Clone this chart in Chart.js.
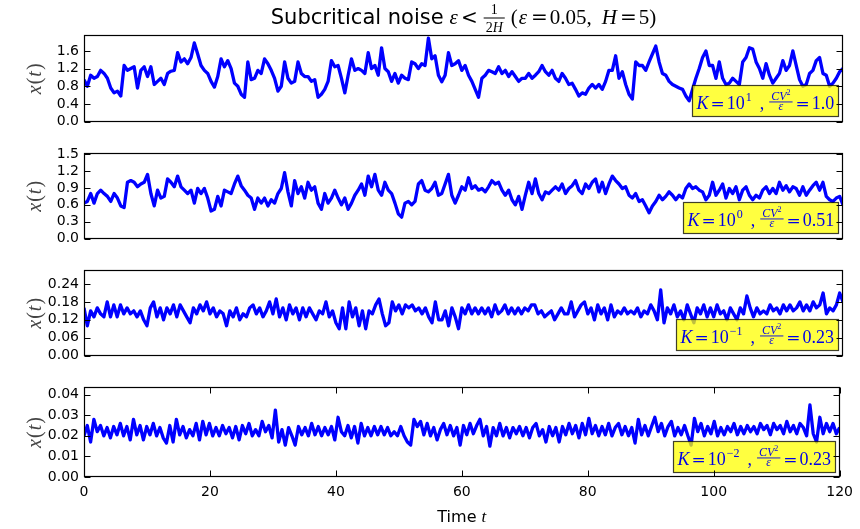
<!DOCTYPE html>
<html>
<head>
<meta charset="utf-8">
<script src="https://cdn.jsdelivr.net/npm/chart.js@4.4.0/dist/chart.umd.min.js"></script>
<style>
html, body { margin: 0; padding: 0; background: #fff; }
#wrap { position: relative; width: 860px; height: 529px; overflow: hidden; }
.panel { position: absolute; left: 0; width: 860px; }
</style>
</head>
<body>
<div id="wrap">
  <div class="panel" style="top:0px;height:135px"><canvas id="c1"></canvas></div>
  <div class="panel" style="top:135px;height:117px"><canvas id="c2"></canvas></div>
  <div class="panel" style="top:252px;height:117px"><canvas id="c3"></canvas></div>
  <div class="panel" style="top:369px;height:160px"><canvas id="c4"></canvas></div>
</div>
<script>
// x(t), evenly spaced over t = 0..120
var xK1 = [
  0.95,0.80,1.05,0.98,1.02,1.16,1.09,0.98,0.76,0.65,
  0.69,0.58,1.27,1.16,1.20,1.24,0.76,1.16,1.24,1.02,
  1.24,0.84,0.91,0.98,0.84,1.09,1.14,1.16,1.56,1.35,
  1.42,1.31,1.45,1.78,1.53,1.27,1.16,1.09,0.91,0.78,
  1.02,1.42,1.24,1.38,1.20,0.87,0.80,0.62,0.55,1.35,
  0.95,0.98,1.16,1.09,1.42,1.31,1.16,0.98,0.69,0.80,
  1.35,0.98,0.87,0.91,1.35,1.09,1.02,1.02,0.91,0.95,
  0.55,0.62,0.73,0.91,1.38,1.24,1.27,0.98,0.65,1.05,
  1.42,1.16,1.20,1.16,1.09,1.56,1.20,1.27,1.05,1.67,
  1.20,1.13,0.91,1.09,0.87,1.05,0.98,0.95,1.35,1.31,
  1.20,1.31,1.27,1.89,1.42,1.49,1.05,
  0.90,1.05,1.56,1.27,1.31,1.38,1.16,1.27,1.05,0.91,
  0.73,0.55,0.98,1.05,1.16,1.13,1.09,1.24,1.09,1.16,
  1.02,1.13,1.02,0.91,0.98,0.98,1.09,0.98,1.05,1.13,
  1.27,1.13,1.05,1.16,0.98,0.91,1.09,0.98,0.84,0.87,
  0.73,0.58,0.65,0.62,0.76,0.84,0.76,0.84,0.73,0.91,
  1.16,1.16,1.49,0.98,1.13,0.84,0.62,0.51,1.35,1.27,
  1.27,1.16,1.35,1.53,1.71,1.35,1.09,1.05,0.91,0.84,
  0.80,0.76,0.73,0.58,0.47,0.73,0.98,1.20,1.45,1.60,
  1.27,1.27,0.98,1.35,0.98,0.84,0.87,0.98,0.91,0.84,
  1.35,1.45,1.67,1.64,1.35,1.20,0.98,1.31,1.05,0.87,
  0.98,1.09,1.38,1.16,1.27,1.60,1.27,0.95,0.80,0.84,
  1.09,1.16,1.38,1.45,1.09,1.05,0.80,0.87,0.98,1.13,
  1.20
];
var xK0 = [
  0.63,0.66,0.80,0.63,0.80,0.86,0.80,0.75,0.66,0.80,
  0.72,0.58,0.55,1.00,1.03,1.00,0.92,0.97,1.00,1.14,
  0.80,0.58,0.86,0.72,0.75,1.06,1.00,0.92,1.11,0.92,
  0.86,0.80,0.86,0.63,0.89,0.80,0.89,0.72,0.49,0.52,
  0.75,0.58,0.86,0.83,0.80,0.97,1.11,0.94,0.86,0.77,
  0.72,0.52,0.72,0.63,0.72,0.58,0.69,0.63,0.80,0.89,
  1.17,0.83,0.58,1.03,0.80,0.92,0.72,1.00,0.86,0.92,
  0.63,0.52,0.80,0.63,0.72,0.86,0.72,0.60,0.72,0.52,
  0.63,0.77,0.86,0.97,0.77,1.11,0.92,1.14,0.86,0.77,
  1.00,0.86,0.80,0.63,0.44,0.38,0.63,0.66,0.60,0.66,
  0.97,1.03,0.86,0.83,0.89,1.00,0.77,
  0.80,0.97,1.14,0.77,0.63,0.77,0.92,0.86,1.08,0.89,
  0.94,0.86,0.89,0.83,0.92,1.03,0.97,1.00,0.86,0.77,
  0.86,0.69,0.60,0.75,0.52,0.77,1.00,0.80,1.06,0.80,
  0.69,0.83,0.80,0.86,0.92,0.86,0.97,0.80,0.89,0.94,
  1.03,0.86,0.80,0.97,0.89,1.00,1.06,0.83,1.00,0.80,
  0.97,1.11,1.03,0.97,0.89,0.92,0.77,0.72,0.80,0.66,
  0.69,0.58,0.46,0.58,0.66,0.77,0.69,0.75,0.83,0.77,
  0.69,0.77,0.72,0.89,0.97,0.89,0.92,0.86,0.83,0.69,
  0.77,1.00,0.77,0.86,0.97,0.72,0.89,0.80,0.92,0.69,
  0.86,0.92,0.77,0.69,0.77,0.72,0.86,0.92,0.80,0.89,
  0.80,1.00,0.86,0.94,0.83,0.92,0.89,0.77,0.92,0.77,
  0.86,0.94,1.00,0.86,1.00,0.75,0.69,0.66,0.72,0.75,
  0.60
];
var xKm1 = [
  0.16,0.10,0.15,0.13,0.16,0.14,0.13,0.18,0.13,0.17,
  0.13,0.17,0.14,0.16,0.14,0.15,0.13,0.15,0.12,0.10,
  0.16,0.18,0.13,0.16,0.12,0.16,0.14,0.17,0.13,0.17,
  0.15,0.13,0.11,0.16,0.14,0.17,0.15,0.18,0.14,0.16,
  0.13,0.15,0.14,0.10,0.15,0.13,0.16,0.12,0.14,0.13,
  0.16,0.17,0.14,0.16,0.13,0.15,0.18,0.14,0.19,0.13,
  0.16,0.12,0.17,0.14,0.16,0.12,0.16,0.13,0.16,0.14,
  0.12,0.15,0.14,0.18,0.13,0.15,0.11,0.09,0.16,0.09,
  0.18,0.13,0.16,0.10,0.15,0.09,0.15,0.14,0.17,0.19,
  0.14,0.10,0.11,0.18,0.15,0.17,0.14,0.17,0.16,0.17,
  0.15,0.16,0.14,0.16,0.13,0.11,0.18,0.12,
  0.12,0.15,0.10,0.16,0.13,0.09,0.16,0.14,0.17,0.14,
  0.16,0.14,0.16,0.14,0.16,0.13,0.17,0.14,0.15,0.17,
  0.14,0.16,0.14,0.16,0.14,0.16,0.15,0.17,0.17,0.14,
  0.15,0.13,0.14,0.15,0.12,0.14,0.16,0.14,0.14,0.18,
  0.13,0.15,0.17,0.18,0.14,0.16,0.12,0.17,0.14,0.16,
  0.12,0.17,0.13,0.15,0.14,0.16,0.14,0.15,0.14,0.16,
  0.13,0.15,0.14,0.17,0.15,0.12,0.22,
  0.11,0.16,0.14,0.17,0.13,0.15,0.12,0.17,0.14,0.11,
  0.16,0.14,0.17,0.13,0.16,0.13,0.17,0.14,0.15,0.12,
  0.16,0.14,0.12,0.16,0.14,0.20,0.16,0.13,0.16,0.14,
  0.15,0.14,0.17,0.15,0.16,0.14,0.17,0.15,0.17,0.15,
  0.16,0.18,0.15,0.17,0.15,0.18,0.16,0.17,0.21,0.14,
  0.16,0.15,0.17,0.21,0.18
];
var xKm2 = [
  0.0200,0.0250,0.0170,0.0280,0.0220,0.0250,0.0200,0.0240,0.0190,0.0245,
  0.0205,0.0260,0.0200,0.0245,0.0180,0.0280,0.0205,0.0250,0.0180,0.0245,
  0.0205,0.0260,0.0200,0.0240,0.0190,0.0165,0.0250,0.0170,0.0280,0.0205,
  0.0245,0.0190,0.0230,0.0200,0.0260,0.0180,0.0270,0.0205,0.0260,0.0200,
  0.0240,0.0200,0.0250,0.0210,0.0240,0.0190,0.0245,0.0180,0.0250,0.0210,
  0.0260,0.0200,0.0230,0.0200,0.0270,0.0220,0.0250,0.0190,0.0325,0.0170,
  0.0230,0.0155,0.0240,0.0200,0.0155,0.0245,0.0205,0.0240,0.0200,0.0260,
  0.0205,0.0245,0.0200,0.0240,0.0205,0.0245,0.0180,0.0290,0.0220,0.0200,
  0.0250,0.0190,0.0245,0.0165,0.0260,0.0200,0.0240,0.0200,0.0245,0.0205,
  0.0245,0.0205,0.0240,0.0200,0.0220,0.0200,0.0245,0.0200,0.0170,0.0155,
  0.0280,0.0245,0.0270,0.0205,0.0260,0.0200,0.0240,0.0180,
  0.0230,0.0260,0.0205,0.0250,0.0200,0.0240,0.0155,0.0250,0.0205,0.0260,
  0.0210,0.0250,0.0280,0.0200,0.0245,0.0150,0.0240,0.0200,0.0260,0.0200,
  0.0240,0.0190,0.0240,0.0210,0.0245,0.0200,0.0240,0.0190,0.0240,0.0260,
  0.0200,0.0230,0.0170,0.0245,0.0200,0.0240,0.0170,0.0245,0.0205,0.0260,
  0.0210,0.0250,0.0190,0.0260,0.0205,0.0285,0.0210,0.0250,0.0200,0.0245,
  0.0205,0.0260,0.0200,0.0240,0.0260,0.0205,0.0245,0.0200,0.0240,0.0165,
  0.0280,0.0205,0.0250,0.0200,0.0245,0.0290,0.0220,0.0260,0.0200,0.0245,
  0.0270,0.0200,0.0240,0.0205,0.0250,0.0200,0.0155,0.0285,0.0220,0.0260,
  0.0200,0.0245,0.0210,0.0270,0.0200,0.0240,0.0205,0.0245,0.0220,0.0260,
  0.0205,0.0245,0.0210,0.0250,0.0220,0.0245,0.0210,0.0260,0.0230,0.0250,
  0.0205,0.0260,0.0230,0.0250,0.0210,0.0270,0.0220,0.0250,0.0210,0.0260,
  0.0240,0.0200,0.0350,
  0.0210,0.0170,0.0290,0.0210,0.0260,0.0220,0.0260,0.0210,0.0240
];

var xTicks = [0, 20, 40, 60, 80, 100, 120];
var yTicks1 = [0, 0.4, 0.8, 1.2, 1.6];
var yTicks2 = [0, 0.3, 0.6, 0.9, 1.2, 1.5];
var yTicks3 = [0, 0.06, 0.12, 0.18, 0.24];
var yTicks4 = [0, 0.01, 0.02, 0.03, 0.04];
var yMaxes = [1.96, 1.52, 0.287, 0.0437];
var kExponents = ['1', '0', '\u22121', '\u22122'];
var cvValues = ['1.0', '0.51', '0.23', '0.23'];

var SERIF = '"Liberation Serif", "DejaVu Serif", serif';
var SANS = '"DejaVu Sans", sans-serif';
var SYM = '"DejaVu Serif", serif';

function put(ctx, s, x, y, font, draw) {
  ctx.font = font;
  if (draw) ctx.fillText(s, x, y);
  return ctx.measureText(s).width;
}

// K = 10^n , CV^2/eps = v
function legendText(ctx, x, y, exp, val, draw) {
  var x0 = x;
  var big = '18px ' + SERIF, bigI = 'italic 18px ' + SERIF, sym = '17px ' + SYM;
  var small = '12px ' + SERIF, smallI = 'italic 12px ' + SERIF;
  x += put(ctx, 'K', x, y, bigI, draw) + 2;
  x += put(ctx, '=', x, y, sym, draw) + 2;
  x += put(ctx, '10', x, y, big, draw) + 1;
  x += put(ctx, exp, x, y - 8, small, draw) + 8;
  x += put(ctx, ',', x, y, big, draw) + 5;
  ctx.font = smallI;
  var wCV = ctx.measureText('CV').width;
  ctx.font = '8px ' + SERIF;
  var w2 = ctx.measureText('2').width;
  var wBar = wCV + w2 + 4;
  if (draw) {
    var nx = x + 2;
    put(ctx, 'CV', nx, y - 9, smallI, true);
    put(ctx, '2', nx + wCV, y - 14, '8px ' + SERIF, true);
    ctx.font = smallI;
    var wE = ctx.measureText('\u03b5').width;
    put(ctx, '\u03b5', x + (wBar - wE) / 2, y + 1, smallI, true);
    ctx.fillRect(x, y - 7, wBar, 0.9);
  }
  x += wBar + 3;
  x += put(ctx, '=', x, y, sym, draw) + 2;
  x += put(ctx, val, x, y, big, draw);
  return x - x0;
}

function titleText(ctx, x, y, draw) {
  var x0 = x;
  var it = 'italic 21px ' + SERIF, up = '21px ' + SERIF, sym = '20px ' + SYM;
  x += put(ctx, 'Subcritical noise', x, y, '21px ' + SANS, draw) + 6;
  x += put(ctx, '\u03b5', x, y, it, draw) + 3;
  x += put(ctx, '<', x, y, sym, draw) + 6;
  ctx.font = '14px ' + SERIF;
  var w2 = ctx.measureText('2').width;
  ctx.font = 'italic 14px ' + SERIF;
  var wH = ctx.measureText('H').width;
  var wBar = w2 + wH + 4;
  if (draw) {
    ctx.font = '14px ' + SERIF;
    var w1 = ctx.measureText('1').width;
    put(ctx, '1', x + (wBar - w1) / 2, y - 10, '14px ' + SERIF, true);
    put(ctx, '2', x + 2, y + 8, '14px ' + SERIF, true);
    put(ctx, 'H', x + 2 + w2, y + 8, 'italic 14px ' + SERIF, true);
    ctx.fillRect(x, y - 6.5, wBar, 1);
  }
  x += wBar + 6;
  x += put(ctx, '(', x, y, up, draw) + 1;
  x += put(ctx, '\u03b5', x, y, it, draw) + 4;
  x += put(ctx, '=', x, y, sym, draw) + 2;
  x += put(ctx, '0.05,', x, y, up, draw) + 10;
  x += put(ctx, 'H', x, y, it, draw) + 3;
  x += put(ctx, '=', x, y, sym, draw) + 2;
  x += put(ctx, '5)', x, y, up, draw);
  return x - x0;
}

var decor = {
  id: 'decor',
  afterDatasetsDraw: function (chart, args, o) {
    var ctx = chart.ctx, a = chart.chartArea;
    var L = Math.round(a.left) + 0.5, R = Math.round(a.right) - 0.5;
    var T = Math.round(a.top) + 0.5, B = Math.round(a.bottom) - 0.5;
    ctx.save();

    // legend box, lower right
    ctx.textBaseline = 'alphabetic';
    ctx.textAlign = 'left';
    var tw = legendText(ctx, 0, 0, o.exp, o.val, false);
    var bw = Math.round(tw + 8), bh = 31;
    var bx = Math.round(a.right - 5 - bw) + 0.5, by = Math.round(a.bottom - 5.5 - bh) + 0.5;
    ctx.fillStyle = 'rgba(255,255,0,0.75)';
    ctx.fillRect(bx, by, bw, bh);
    ctx.strokeStyle = 'rgba(0,0,0,0.75)';
    ctx.lineWidth = 1.2;
    ctx.strokeRect(bx, by, bw, bh);
    ctx.fillStyle = '#0000e6';
    legendText(ctx, bx + 4, by + 23, o.exp, o.val, true);

    // frame and inward ticks
    ctx.strokeStyle = '#000';
    ctx.lineWidth = 1.2;
    ctx.strokeRect(L, T, R - L, B - T);
    ctx.lineWidth = 1;
    ctx.beginPath();
    var ys = chart.scales.y;
    o.yTicks.forEach(function (v) {
      var py = Math.round(ys.getPixelForValue(v)) + 0.5;
      ctx.moveTo(L, py); ctx.lineTo(L + 6, py);
      ctx.moveTo(R, py); ctx.lineTo(R - 6, py);
    });
    if (o.showX) {
      var xs = chart.scales.x;
      xTicks.forEach(function (v) {
        var px = Math.round(xs.getPixelForValue(v)) + 0.5;
        ctx.moveTo(px, B); ctx.lineTo(px, B - 6);
        ctx.moveTo(px, T); ctx.lineTo(px, T + 6);
      });
    }
    ctx.stroke();

    // y label x(t)
    ctx.save();
    ctx.translate(41, (a.top + a.bottom) / 2);
    ctx.rotate(-Math.PI / 2);
    ctx.fillStyle = '#444';
    var parts = [['x', true], ['(', false], ['t', true], [')', false]];
    var w = 0;
    parts.forEach(function (p) { ctx.font = (p[1] ? 'italic ' : '') + '20px ' + SERIF; w += ctx.measureText(p[0]).width + 1; });
    var cx = -w / 2;
    parts.forEach(function (p) { cx += put(ctx, p[0], cx, 0, (p[1] ? 'italic ' : '') + '20px ' + SERIF, true) + 1; });
    ctx.restore();

    ctx.fillStyle = '#000';
    if (o.title) {
      var ttw = titleText(ctx, 0, 0, false);
      titleText(ctx, (a.left + a.right) / 2 - ttw / 2, 24, true);
    }
    if (o.xlabel) {
      ctx.font = '16px ' + SANS;
      var w1 = ctx.measureText('Time ').width;
      ctx.font = 'italic 17px ' + SERIF;
      var w2 = ctx.measureText('t').width;
      var sx = (a.left + a.right) / 2 - (w1 + w2) / 2;
      put(ctx, 'Time ', sx, 153, '16px ' + SANS, true);
      put(ctx, 't', sx + w1, 153, 'italic 17px ' + SERIF, true);
    }
    ctx.restore();
  }
};

function buildPanel(canvasId, values, idx, yTicks, decimals, pad) {
  var dt = 120 / (values.length - 1);
  var points = values.map(function (v, i) { return { x: i * dt, y: v }; });
  var showX = idx === 3;
  return new Chart(document.getElementById(canvasId), {
    type: 'line',
    data: {
      datasets: [{
        data: points,
        borderColor: '#0000ff',
        borderWidth: 3.3,
        pointRadius: 0,
        tension: 0,
        fill: false,
        clip: 0,
        borderJoinStyle: 'round'
      }]
    },
    options: {
      responsive: true,
      maintainAspectRatio: false,
      animation: false,
      layout: { padding: pad },
      plugins: {
        legend: { display: false },
        tooltip: { enabled: false },
        decor: {
          exp: kExponents[idx],
          val: cvValues[idx],
          yTicks: yTicks,
          showX: showX,
          title: idx === 0,
          xlabel: showX
        }
      },
      scales: {
        x: {
          type: 'linear',
          min: 0,
          max: 120,
          display: showX,
          afterBuildTicks: function (s) { s.ticks = xTicks.map(function (v) { return { value: v }; }); },
          afterFit: function (s) { s.height = showX ? 30 : 0; },
          ticks: { font: { family: 'DejaVu Sans', size: 14 }, color: '#000', padding: 7, maxRotation: 0, autoSkip: false },
          grid: { display: false, drawTicks: false },
          border: { display: false }
        },
        y: {
          min: 0,
          max: yMaxes[idx],
          afterBuildTicks: function (s) { s.ticks = yTicks.map(function (v) { return { value: v }; }); },
          afterFit: function (s) { s.width = 84; },
          ticks: {
            font: { family: 'DejaVu Sans', size: 14 },
            color: '#000',
            padding: 5,
            autoSkip: false,
            callback: function (v) { return Number(v).toFixed(decimals); }
          },
          grid: { display: false, drawTicks: false },
          border: { display: false }
        }
      }
    },
    plugins: [decor]
  });
}

buildPanel('c1', xK1, 0, yTicks1, 1, { top: 35, bottom: 10, left: 0, right: 17 });
buildPanel('c2', xK0, 1, yTicks2, 1, { top: 18, bottom: 10, left: 0, right: 17 });
buildPanel('c3', xKm1, 2, yTicks3, 2, { top: 18, bottom: 10, left: 0, right: 17 });
buildPanel('c4', xKm2, 3, yTicks4, 2, { top: 18, bottom: 22, left: 0, right: 17 });
</script>
</body>
</html>
